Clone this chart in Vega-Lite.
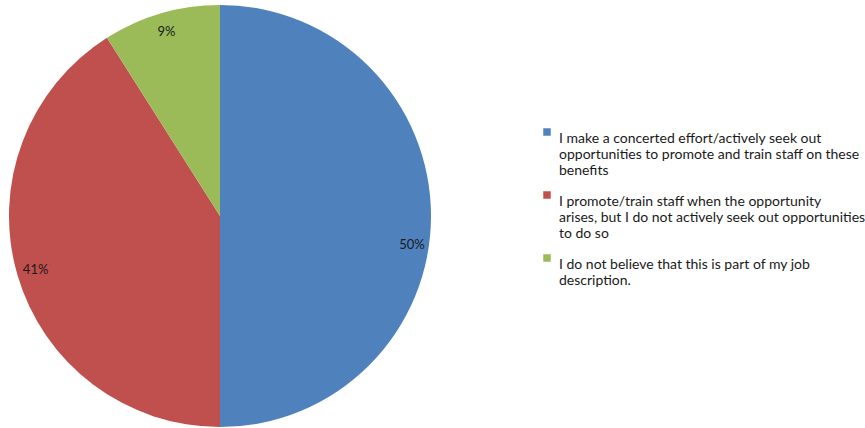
{
  "$schema": "https://vega.github.io/schema/vega-lite/v6.json",
  "width": 440,
  "height": 432,
  "padding": 0,
  "background": "white",
  "config": {"view": {"stroke": null}, "font": "Lato"},
  "data": {
    "values": [
      {"response": "I make a concerted effort/actively seek out opportunities to promote and train staff on these benefits", "share": 0.50, "order": 1},
      {"response": "I promote/train staff when the opportunity arises, but I do not actively seek out opportunities to do so", "share": 0.41, "order": 2},
      {"response": "I do not believe that this is part of my job description.", "share": 0.09, "order": 3}
    ]
  },
  "transform": [
    {"stack": "share", "groupby": [], "sort": [{"field": "order"}], "as": ["start", "end"]},
    {"calculate": "(datum.start + datum.end) / 2", "as": "mid"}
  ],
  "layer": [
    {
      "mark": {"type": "arc", "outerRadius": 211},
      "encoding": {
        "theta": {"field": "start", "type": "quantitative", "scale": {"domain": [0, 1]}},
        "theta2": {"field": "end"},
        "color": {
          "field": "response",
          "type": "nominal",
          "scale": {
            "domain": [
              "I make a concerted effort/actively seek out opportunities to promote and train staff on these benefits",
              "I promote/train staff when the opportunity arises, but I do not actively seek out opportunities to do so",
              "I do not believe that this is part of my job description."
            ],
            "range": ["#4F81BD", "#C0504D", "#9BBB59"]
          },
          "legend": {
            "title": null,
            "orient": "none",
            "legendX": 540,
            "legendY": 125,
            "symbolType": "square",
            "symbolSize": 56,
            "symbolStrokeWidth": 0,
            "symbolOffset": 0,
            "labelFont": "Lato",
            "labelFontSize": 14,
            "labelColor": "#1a1a1a",
            "labelBaseline": "top",
            "labelLineHeight": 18,
            "labelLimit": 400,
            "labelOffset": 5,
            "rowPadding": 10,
            "labelExpr": "indexof(datum.label, 'concerted') >= 0 ? ['I make a concerted effort/actively seek out', 'opportunities to promote and train staff on these', 'benefits'] : indexof(datum.label, 'arises') >= 0 ? ['I promote/train staff when the opportunity', 'arises, but I do not actively seek out opportunities', 'to do so'] : ['I do not believe that this is part of my job', 'description.']"
          }
        }
      }
    },
    {
      "transform": [{"filter": "datum.order != 1"}],
      "mark": {"type": "text", "radius": 192, "font": "Lato", "fontSize": 13, "color": "#1a1a1a"},
      "encoding": {
        "theta": {"field": "mid", "type": "quantitative", "scale": {"domain": [0, 1]}},
        "text": {"field": "share", "type": "quantitative", "format": ".0%"}
      }
    },
    {
      "transform": [{"filter": "datum.order == 1"}],
      "mark": {"type": "text", "radius": 192, "dy": 29, "font": "Lato", "fontSize": 13, "color": "#1a1a1a"},
      "encoding": {
        "theta": {"field": "mid", "type": "quantitative", "scale": {"domain": [0, 1]}},
        "text": {"field": "share", "type": "quantitative", "format": ".0%"}
      }
    }
  ]
}
